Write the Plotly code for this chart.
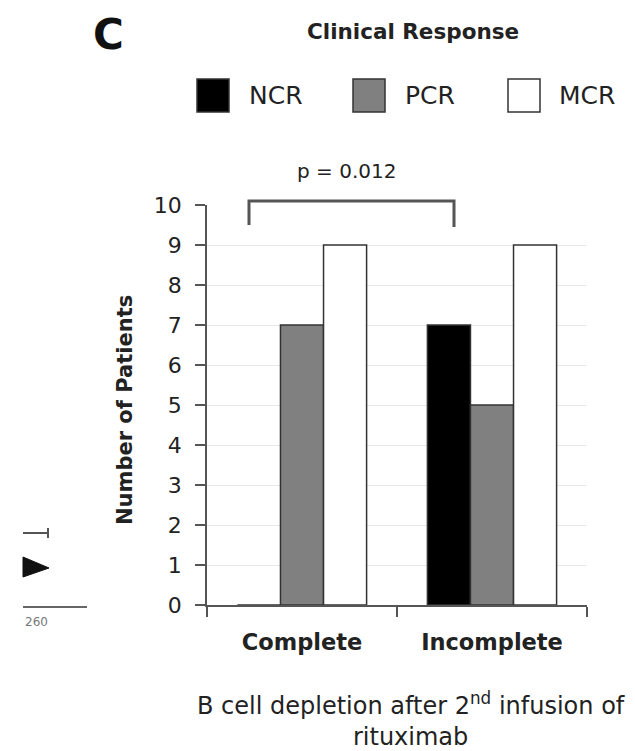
import plotly.graph_objects as go

categories = ["Complete", "Incomplete"]
series_names = ["NCR", "PCR", "MCR"]
ncr_values = [0, 7]
pcr_values = [7, 5]
mcr_values = [9, 9]
y_ticks = list(range(0, 11))
p_text = "p = 0.012"

fills = {"NCR": "#000000", "PCR": "#808080", "MCR": "#ffffff"}
FONT = "DejaVu Sans"

# the page body has an 8px margin; shrink the figure so it fits the 635x751 window
OFF = 8
W, H = 635 - OFF, 751 - OFF
# plot area in window pixels: x 207..587, y 205..605
L, R, T, B = 207 - OFF, 635 - 587, 205 - OFF, 751 - 605
PW, PH = W - L - R, H - T - B


def px(x):
    return (x - OFF - L) / PW


def py(y):
    return (H - B - (y - OFF)) / PH


fig = go.Figure()
for name, vals in zip(series_names, [ncr_values, pcr_values, mcr_values]):
    fig.add_trace(go.Bar(
        x=categories, y=vals, name=name,
        marker=dict(color=fills[name], line=dict(color="#333333", width=1.5)),
        showlegend=False,
    ))

fig.update_layout(
    width=W, height=H,
    margin=dict(l=L, r=R, t=T, b=B),
    paper_bgcolor="white", plot_bgcolor="white",
    barmode="group", bargap=0.32, bargroupgap=0,
    font=dict(family=FONT, color="#222222"),
    xaxis=dict(
        type="category", range=[-0.5, 1.5], tickson="boundaries",
        ticks="outside", ticklen=10, tickcolor="#555555", tickwidth=1.5,
        showline=True, linecolor="#555555", linewidth=1.5,
        showgrid=False,
        tickfont=dict(family=FONT, size=22.5, color="#222222", weight="bold"),
        ticklabelstandoff=16,
    ),
    yaxis=dict(
        range=[0, 10], tickvals=y_ticks,
        ticks="outside", ticklen=10, tickcolor="#555555", tickwidth=1.5,
        showline=True, linecolor="#555555", linewidth=1.5,
        showgrid=True, gridcolor="#e8e8e8", gridwidth=1,
        zeroline=False,
        tickfont=dict(family=FONT, size=22, color="#222222"),
        ticklabelstandoff=9,
    ),
)

ann = []
ann.append(dict(text="<b>C</b>", x=px(108), y=py(34), xref="paper", yref="paper",
                showarrow=False, font=dict(family=FONT, size=42, color="#111111"),
                xanchor="center", yanchor="middle"))
ann.append(dict(text="<b>Clinical Response</b>", x=px(413), y=py(32), xref="paper", yref="paper",
                showarrow=False, font=dict(family=FONT, size=21.5, color="#222222"),
                xanchor="center", yanchor="middle"))
ann.append(dict(text=p_text, x=px(346), y=py(171), xref="paper", yref="paper",
                showarrow=False, font=dict(family=FONT, size=20, color="#222222"),
                xanchor="center", yanchor="middle"))
ann.append(dict(text="<b>Number of Patients</b>", x=px(125), y=py(410), xref="paper", yref="paper",
                showarrow=False, textangle=-90, font=dict(family=FONT, size=21, color="#222222"),
                xanchor="center", yanchor="middle"))
ann.append(dict(text="B cell depletion after 2<sup>nd</sup> infusion of<br>rituximab",
                x=px(411), y=py(719), xref="paper", yref="paper",
                showarrow=False, font=dict(family=FONT, size=24, color="#222222"),
                xanchor="center", yanchor="middle"))

shapes = []
# legend
leg = [("NCR", 197, 247), ("PCR", 353, 403), ("MCR", 508, 557)]
for name, bx, tx in leg:
    shapes.append(dict(type="rect", xref="paper", yref="paper",
                       x0=px(bx), x1=px(bx + 32), y0=py(112), y1=py(79),
                       fillcolor=fills[name], line=dict(color="#333333", width=1.5)))
    ann.append(dict(text=name, x=px(tx), y=py(95), xref="paper", yref="paper",
                    showarrow=False, font=dict(family=FONT, size=25, color="#222222"),
                    xanchor="left", yanchor="middle"))

# significance bracket
shapes.append(dict(type="path", xref="paper", yref="paper",
                   path=f"M {px(249)} {py(225)} L {px(249)} {py(201)} L {px(454)} {py(201)} L {px(454)} {py(227)}",
                   line=dict(color="#555555", width=3)))

# fragments of neighbouring panel at bottom-left
shapes.append(dict(type="line", xref="paper", yref="paper",
                   x0=px(23), x1=px(49), y0=py(533), y1=py(533), line=dict(color="#555555", width=2)))
shapes.append(dict(type="line", xref="paper", yref="paper",
                   x0=px(48), x1=px(48), y0=py(528), y1=py(538), line=dict(color="#555555", width=2)))
shapes.append(dict(type="path", xref="paper", yref="paper",
                   path=f"M {px(23)} {py(557)} L {px(49)} {py(568)} L {px(23)} {py(577)} Z",
                   fillcolor="#111111", line=dict(color="#111111", width=1)))
shapes.append(dict(type="line", xref="paper", yref="paper",
                   x0=px(23), x1=px(87), y0=py(607), y1=py(607), line=dict(color="#666666", width=2)))
ann.append(dict(text="260", x=px(23), y=py(622), xref="paper", yref="paper",
                showarrow=False, font=dict(family=FONT, size=12, color="#777777"),
                xanchor="left", yanchor="middle"))

fig.update_layout(annotations=ann, shapes=shapes)
fig.write_html("out.html")
